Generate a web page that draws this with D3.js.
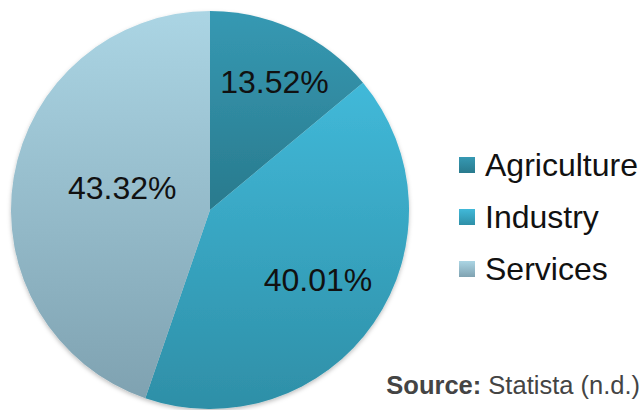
<!DOCTYPE html>
<html>
<head>
<meta charset="utf-8">
<script src="https://cdn.jsdelivr.net/npm/d3@7"></script>
<style>
  html, body { margin: 0; padding: 0; background: #fff; }
  svg { display: block; font-family: "Liberation Sans", Arial, Helvetica, sans-serif; }
</style>
</head>
<body>
<svg id="chart" width="641" height="410"></svg>
<script>
// Sector shares of GDP
const categories = ["Agriculture", "Industry", "Services"];
const shares = [13.52, 40.01, 43.32];
const shareLabels = ["13.52%", "40.01%", "43.32%"];

// Gradient stops per sector (top, bottom)
const topColors = ["#3699b3", "#41b9d9", "#abd5e4"];
const bottomColors = ["#297a8d", "#2e8fa7", "#7fa2b1"];

const svg = d3.select("#chart");
const cx = 210, cy = 210, R = 199;

const defs = svg.append("defs");
categories.forEach((c, i) => {
  const g = defs.append("linearGradient")
    .attr("id", "grad" + i)
    .attr("x1", 0).attr("y1", 0).attr("x2", 0).attr("y2", 1);
  g.append("stop").attr("offset", "0%").attr("stop-color", topColors[i]);
  g.append("stop").attr("offset", "100%").attr("stop-color", bottomColors[i]);
});
const shadow = defs.append("filter").attr("id", "shadow")
  .attr("x", "-10%").attr("y", "-10%").attr("width", "120%").attr("height", "120%");
shadow.append("feDropShadow")
  .attr("dx", 0).attr("dy", 2).attr("stdDeviation", 2)
  .attr("flood-color", "#000").attr("flood-opacity", 0.25);

const pie = d3.pie().sort(null).value(d => d)(shares);
const arc = d3.arc().innerRadius(0).outerRadius(R);

const pieG = svg.append("g").attr("transform", `translate(${cx},${cy})`);
pieG.append("g").attr("filter", "url(#shadow)")
  .selectAll("path")
  .data(pie)
  .join("path")
  .attr("d", arc)
  .attr("fill", (d, i) => `url(#grad${i})`);

// Label placement: fraction of radius and angular nudge (radians) for each slice
const labelRadius = [0.72, 0.645, 0.455];
const labelNudge = [0.028, -0.033, 0.08];
pieG.selectAll("text.val")
  .data(pie)
  .join("text")
  .attr("class", "val")
  .attr("x", (d, i) => Math.sin((d.startAngle + d.endAngle) / 2 + labelNudge[i]) * R * labelRadius[i])
  .attr("y", (d, i) => -Math.cos((d.startAngle + d.endAngle) / 2 + labelNudge[i]) * R * labelRadius[i])
  .attr("dy", "0.35em")
  .attr("text-anchor", "middle")
  .attr("font-size", 32)
  .attr("fill", "#111")
  .text((d, i) => shareLabels[i]);

// Legend
const legend = svg.append("g").attr("transform", "translate(459,0)");
const rowY = d3.scalePoint().domain(categories).range([165, 269]);
const rows = legend.selectAll("g").data(categories).join("g")
  .attr("transform", d => `translate(0,${rowY(d)})`);
rows.append("rect")
  .attr("x", 0).attr("y", -8).attr("width", 16).attr("height", 16)
  .attr("fill", (d, i) => `url(#grad${i})`);
rows.append("text")
  .attr("x", 26).attr("y", 0).attr("dy", "0.35em")
  .attr("font-size", 32).attr("fill", "#111")
  .text(d => d);

// Source note
const src = svg.append("text")
  .attr("x", 640).attr("y", 394)
  .attr("text-anchor", "end")
  .attr("font-size", 25.5)
  .attr("fill", "#444");
src.append("tspan").attr("font-weight", "bold").text("Source:");
src.append("tspan").text(" Statista (n.d.)");
</script>
</body>
</html>
